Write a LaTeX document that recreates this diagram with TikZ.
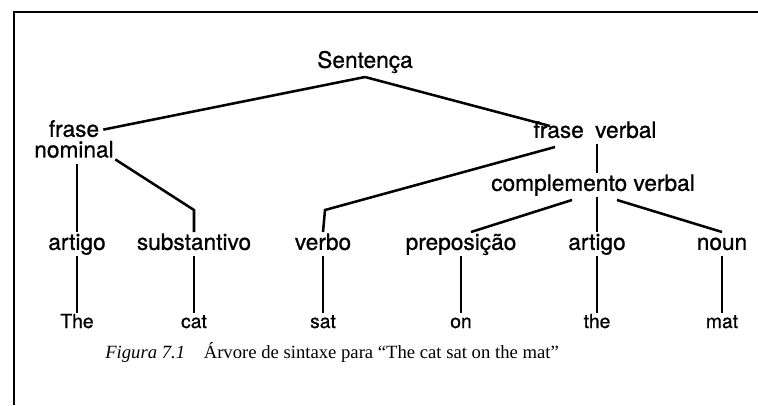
\documentclass[tikz,border=0pt]{standalone}
\usepackage{fontspec}
\setmainfont{Liberation Serif}
\newfontfamily\helv[FakeBold=0.8]{TeX Gyre Heros}
\usetikzlibrary{
		calc,
		positioning
	}
\tikzset{
		lbl/.style={font=\helv\fontsize{17}{15.5}\selectfont, inner sep=1pt, text height=12.2pt, text depth=3.4pt},
		wrd/.style={font=\helv\fontsize{14.5}{16}\selectfont, inner sep=1pt, text height=10.4pt, text depth=2.9pt},
		branch/.style={line width=1.9pt}
	}

\begin{document}
\begin{tikzpicture}[x=0.75pt, y=-0.75pt] % (1 unit = 1 px of the page, y goes down)
		\useasboundingbox (0,0) rectangle (758,405);
		\draw[line width=1pt] (14,405) -- (14,12) -- (758,12); % the frame
		% the labels of the tree
		\node[lbl] (sent) at (365,62) {Sentença};
		\node[font=\helv\fontsize{17}{15.5}\selectfont, inner sep=1pt, align=center] (fn) at (74,139) {frase\\nominal};
		\node[lbl] (fv) at (595,132) {frase\hspace{0.5em}verbal};
		\node[lbl] (cv) at (593,185) {complemento verbal};
		\node[lbl] (art1) at (77,244) {artigo};
		\node[lbl] (subst) at (194,244) {substantivo};
		\node[lbl] (verbo) at (323,244) {verbo};
		\node[lbl] (prep) at (461,244) {preposição};
		\node[lbl] (art2) at (597,244) {artigo};
		\node[lbl] (noun) at (722,244) {noun};
		% the branches
		\coordinate (apex) at ($(sent.south)+(0,3)$);
		\draw[branch] (apex) -- ($(fn.north east)+(-12,11)$);
		\draw[branch] (apex) -- ($(fv.north west)+(18,6)$);
		\draw[branch] ($(fn.south -| art1)+(0,5)$) -- (art1.north);
		\draw[branch] (fn.south east) -- ($(subst.north)+(0,-22)$) -- (subst.north);
		\draw[branch] ($(fv.south)+(-40,3)$) -- ($(verbo.north)+(2,-22)$) -- (verbo.north);
		\draw[branch] (fv.south -| art2) -- (cv.north -| art2);
		\draw[branch] ($(cv.south)+(-21,3)$) -- ($(prep.north)+(10,0)$);
		\draw[branch] (cv.south -| art2) -- (art2.north);
		\draw[branch] ($(cv.south)+(24,3)$) -- (noun.north);
		% the words, one under each leaf
		\foreach \n/\w in {art1/The, subst/cat, verbo/sat, prep/on, art2/the, noun/mat}{
			\node[wrd] (w-\n) at (\n |- 0,323) {\w};
			\draw[branch] (\n.south) -- (w-\n.north);
		}
		\node[anchor=west, inner sep=0pt, font=\fontsize{14}{16}\selectfont] (cap) at (105,352)
			{\textit{Figura 7.1}\hspace{1em}Árvore de sintaxe para “The cat sat on the mat”};
	\end{tikzpicture}
\end{document}
